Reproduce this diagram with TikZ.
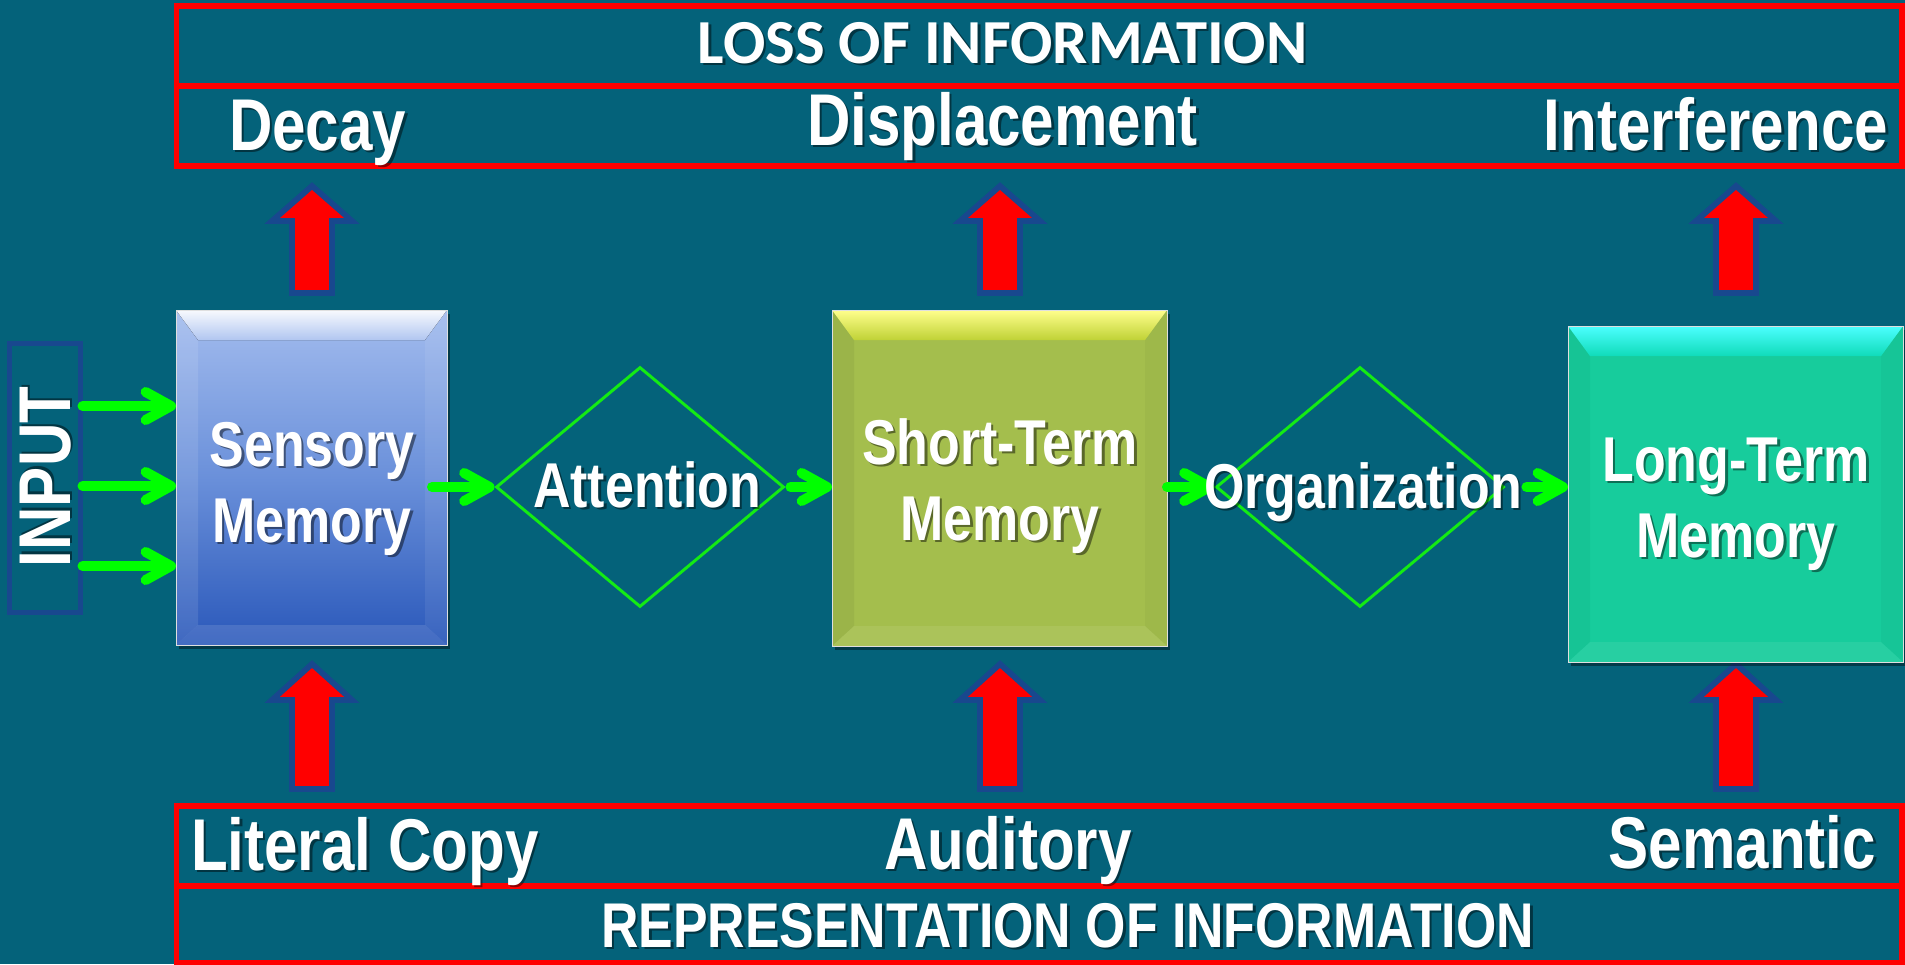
\documentclass[tikz,border=0pt]{standalone}
\usepackage{fontspec}
\newfontfamily\narrowsans[FakeStretch=0.82]{Liberation Sans}
\newfontfamily\calibsans{Carlito}
\usetikzlibrary{shapes.geometric,arrows.meta,shadows,calc}

\definecolor{bg}{RGB}{4,98,122}
\definecolor{navy}{RGB}{24,72,142}
\definecolor{flowgreen}{RGB}{0,255,0}
\definecolor{gategreen}{RGB}{20,235,20}
\definecolor{sensTop}{RGB}{163,188,238}
\definecolor{sensMid}{RGB}{106,144,218}
\definecolor{sensBot}{RGB}{42,88,186}
\definecolor{stmMain}{RGB}{164,190,77}
\definecolor{ltmMain}{RGB}{23,204,156}

% one text line with a soft dark copy behind it
\newcommand\shtext[4][]{%
  \node[txt,#1,text=black,opacity=.45,xshift=1.9pt,yshift=-1.9pt] at #3 {#4};
  \node[txt,#1] (#2) at #3 {#4};
}
% red block arrow pointing up: centre x, tip y, head base y, foot y
\newcommand\redup[4]{%
  \draw[redarrow] (#1-20,#4) -- (#1-20,#3) -- (#1-40,#3) -- (#1,#2)
    -- (#1+40,#3) -- (#1+20,#3) -- (#1+20,#4) -- cycle;
}

\tikzset{
  txt/.style={text=white, inner sep=0pt, outer sep=0pt},
  lbl/.style={font=\narrowsans\bfseries\fontsize{55}{60}\selectfont},
  boxfont/.style={font=\narrowsans\bfseries\fontsize{47.5}{57}\selectfont, align=center},
  headfont/.style={font=\calibsans\bfseries\fontsize{47}{50}\selectfont},
  reprfont/.style={font=\narrowsans\bfseries\fontsize{47.4}{50}\selectfont},
  redbox/.style={draw=red, line width=4.3pt, inner sep=0pt, outer sep=0pt,
    minimum width=1294.1pt, minimum height=60pt},
  redarrow/.style={fill=red, draw=navy, line width=4.3pt, miter limit=4},
  flow/.style={draw=flowgreen, line width=7.5pt, line cap=round,
    -{Straight Barb[length=19pt,width=21pt,round]}},
  gate/.style={diamond, draw=gategreen, line width=2.2pt, inner sep=0pt,
    minimum width=216pt, minimum height=180pt},
  membox/.style={rectangle, inner sep=0pt, outer sep=0pt,
    draw=white!75!gray, line width=0.5pt,
    drop shadow={shadow xshift=2.5pt, shadow yshift=-3pt, opacity=.4, fill=black}},
  bevel/.style n args={4}{path picture={
    \path (path picture bounding box.north west) coordinate (bvNW)
          (path picture bounding box.north east) coordinate (bvNE)
          (path picture bounding box.south west) coordinate (bvSW)
          (path picture bounding box.south east) coordinate (bvSE);
    \fill[#2] (bvNW) -- ([xshift=16.5pt,yshift=-22.5pt]bvNW)
      -- ([xshift=16.5pt,yshift=15pt]bvSW) -- (bvSW) -- cycle;
    \fill[#3] (bvNE) -- ([xshift=-16.5pt,yshift=-22.5pt]bvNE)
      -- ([xshift=-16.5pt,yshift=15pt]bvSE) -- (bvSE) -- cycle;
    \fill[#4] (bvSW) -- ([xshift=16.5pt,yshift=15pt]bvSW)
      -- ([xshift=-16.5pt,yshift=15pt]bvSE) -- (bvSE) -- cycle;
    \fill[#1] (bvNW) -- (bvNE) -- ([xshift=-16.5pt,yshift=-22.5pt]bvNE)
      -- ([xshift=16.5pt,yshift=-22.5pt]bvNW) -- cycle;
  }}
}

\begin{document}
\begin{tikzpicture}[x=0.75pt,y=-0.75pt]
\useasboundingbox (0,0) rectangle (1905,964);
\fill[bg] (0,0) rectangle (1905,964);

% framed rows: loss of information (top), representation (bottom)
\node[redbox] (losshead) at (1039.25,46) {};
\node[redbox] (lossrow)  at (1039.25,126) {};
\node[redbox] (reprow)   at (1039.25,846) {};
\node[redbox, minimum height=57.75pt] (rephead) at (1039.25,924.5) {};

% red block arrows
\redup{312}{186}{221}{293}
\redup{1000}{186}{221}{293}
\redup{1736}{186}{221}{293}
\redup{312}{664}{700}{789}
\redup{1000}{664}{700}{789}
\redup{1736}{664}{700}{789}

% input frame
\node[draw=navy, line width=3.75pt, inner sep=0pt,
      minimum width=52.9pt, minimum height=201.75pt] (input) at (44.75,477.5) {};

% memory stores
\node[membox, minimum width=203.25pt, minimum height=251.25pt,
      top color=sensTop, bottom color=sensBot, middle color=sensMid,
      bevel={top color=white!92!sensTop, bottom color=sensTop!85!white}%
            {fill=white, opacity=.1}{fill=white, opacity=.07}{fill=white, opacity=.12}]
      (sm) at (311.5,477.5) {};
\node[membox, minimum width=251.25pt, minimum height=252pt, fill=stmMain,
      bevel={top color=yellow!45!white, bottom color=stmMain!70!yellow}%
            {fill=black, opacity=.05}{fill=black, opacity=.03}{fill=white, opacity=.08}]
      (stm) at (999.5,478) {};
\node[membox, minimum width=251.25pt, minimum height=252pt, fill=ltmMain,
      bevel={top color=cyan!70!white, bottom color=ltmMain!70!cyan}%
            {fill=black, opacity=.04}{fill=black, opacity=.03}{fill=white, opacity=.07}]
      (ltm) at (1735.5,494) {};

% control processes
\node[gate] (att) at (640,487) {};
\node[gate] (org) at (1360,487) {};

% flow of information
\coordinate (in1) at (0,406);
\coordinate (in2) at (0,486);
\coordinate (in3) at (0,566);
\draw[flow] (input.east |- in1) -- (sm.west |- in1);
\draw[flow] (input.east |- in2) -- (sm.west |- in2);
\draw[flow] (input.east |- in3) -- (sm.west |- in3);
\draw[flow] ($(sm.east |- att.west)+(-15,0)$) -- (att.west);
\draw[flow] ($(att.east)+(5,0)$) -- (stm.west |- att.east);
\draw[flow] (stm.east |- org.west) -- (org.west);
\draw[flow] ($(org.east)+(21,0)$) -- (ltm.west |- org.east);

% texts (two-line nodes are placed by the baseline of their last line)
\shtext[lbl, rotate=90]{tInput}{(45.5,477)}{INPUT}
\shtext[headfont, anchor=base]{tLoss}{(1002.5,63)}{LOSS OF INFORMATION}
\shtext[lbl, anchor=base west]{tDecay}{(229,150)}{Decay}
\shtext[lbl, anchor=base]{tDisp}{(1002.5,145)}{Displacement}
\shtext[lbl, anchor=base east]{tInter}{(1888,150)}{Interference}
\shtext[lbl, anchor=base west]{tLit}{(191,870)}{Literal Copy}
\shtext[lbl, anchor=base]{tAud}{(1008,869)}{Auditory}
\shtext[lbl, anchor=base east]{tSem}{(1876,868)}{Semantic}
\shtext[reprfont, anchor=base]{tRep}{(1067.5,947)}{REPRESENTATION OF INFORMATION}
\shtext[boxfont, anchor=base]{tSM}{(312,542)}{Sensory\\Memory}
\shtext[boxfont, anchor=base]{tSTM}{(1000,540)}{Short-Term\\Memory}
\shtext[boxfont, anchor=base]{tLTM}{(1736,557)}{Long-Term\\Memory}
\shtext[boxfont, anchor=base]{tAtt}{(647,507)}{Attention}
\shtext[boxfont, anchor=base]{tOrg}{(1363,508)}{Organization}
\end{tikzpicture}
\end{document}
